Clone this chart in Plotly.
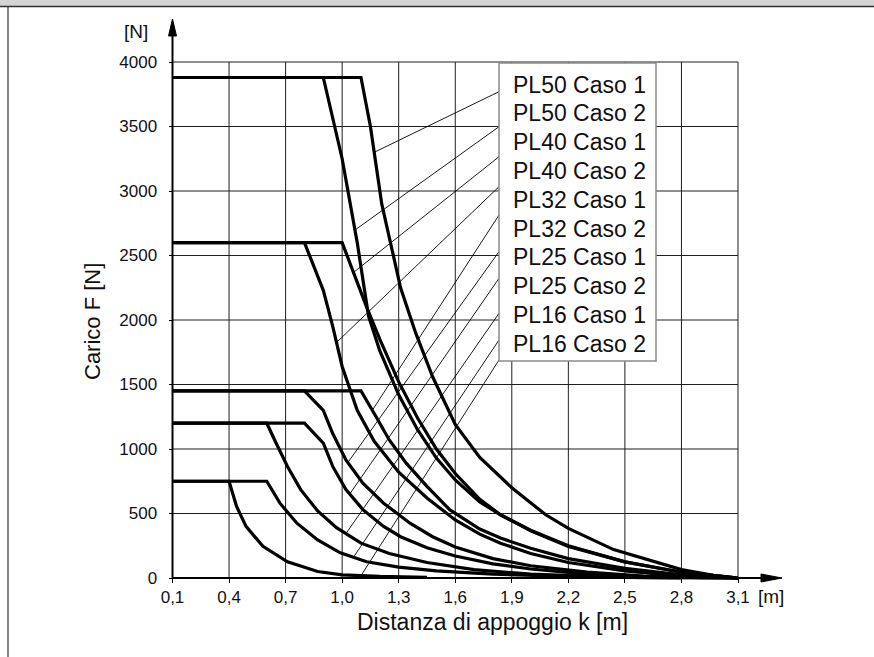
import numpy as np
import plotly.graph_objects as go

# ---- data -------------------------------------------------------------
series_names = ["PL50 Caso 1", "PL50 Caso 2", "PL40 Caso 1", "PL40 Caso 2",
                "PL32 Caso 1", "PL32 Caso 2", "PL25 Caso 1", "PL25 Caso 2",
                "PL16 Caso 1", "PL16 Caso 2"]

pl50_c1_k = [0.1, 1.1, 1.15, 1.21, 1.31, 1.39, 1.48, 1.6, 1.73, 1.84, 1.9, 2.08, 2.2, 2.44, 2.62, 2.8, 2.97, 3.1]
pl50_c1_f = [3880, 3880, 3500, 2900, 2250, 1900, 1560, 1190, 935, 780, 700, 490, 385, 220, 140, 65, 20, 0]

pl50_c2_k = [0.1, 0.9, 1.0, 1.08, 1.14, 1.2, 1.3, 1.4, 1.5, 1.6, 1.73, 1.84, 2.0, 2.2, 2.5, 2.8, 3.1]
pl50_c2_f = [3880, 3880, 3250, 2600, 2030, 1760, 1420, 1150, 930, 760, 590, 490, 370, 250, 125, 45, 0]

pl40_c1_k = [0.1, 1.0, 1.07, 1.13, 1.2, 1.3, 1.4, 1.5, 1.6, 1.73, 1.84, 2.0, 2.2, 2.5, 2.8, 3.1]
pl40_c1_f = [2600, 2600, 2330, 2100, 1850, 1520, 1240, 1000, 810, 610, 490, 365, 245, 125, 45, 0]

pl40_c2_k = [0.1, 0.8, 0.9, 0.95, 1.0, 1.08, 1.17, 1.3, 1.45, 1.6, 1.73, 1.84, 2.0, 2.2, 2.5, 2.8, 3.1]
pl40_c2_f = [2600, 2600, 2230, 1950, 1640, 1300, 1060, 820, 620, 450, 340, 270, 190, 120, 55, 15, 0]

pl32_c1_k = [0.1, 1.1, 1.18, 1.25, 1.34, 1.45, 1.57, 1.73, 1.84, 2.0, 2.2, 2.5, 2.8, 3.1]
pl32_c1_f = [1450, 1450, 1250, 1070, 890, 710, 530, 380, 310, 230, 150, 75, 25, 0]

pl32_c2_k = [0.1, 0.8, 0.9, 0.95, 1.02, 1.11, 1.22, 1.36, 1.48, 1.6, 1.8, 2.0, 2.3, 2.6, 2.9, 3.1]
pl32_c2_f = [1450, 1450, 1300, 1120, 915, 735, 580, 425, 320, 240, 150, 95, 45, 15, 3, 0]

pl25_c1_k = [0.1, 0.8, 0.9, 0.95, 1.02, 1.11, 1.22, 1.31, 1.45, 1.6, 1.8, 2.0, 2.3, 2.6, 3.1]
pl25_c1_f = [1200, 1200, 1045, 865, 685, 530, 400, 320, 235, 170, 110, 70, 30, 10, 0]

pl25_c2_k = [0.1, 0.6, 0.65, 0.71, 0.78, 0.87, 0.97, 1.1, 1.25, 1.45, 1.7, 2.0, 2.4, 2.8]
pl25_c2_f = [1200, 1200, 1045, 865, 685, 520, 390, 270, 190, 120, 65, 30, 8, 0]

pl16_c1_k = [0.1, 0.6, 0.67, 0.76, 0.87, 0.99, 1.13, 1.3, 1.5, 1.8, 2.2, 2.6, 3.1]
pl16_c1_f = [750, 750, 580, 425, 295, 195, 126, 85, 55, 30, 12, 3, 0]

pl16_c2_k = [0.1, 0.4, 0.44, 0.49, 0.58, 0.71, 0.87, 1.0, 1.2, 1.45]
pl16_c2_f = [750, 750, 555, 400, 245, 125, 50, 25, 12, 5]

curves_k = [pl50_c1_k, pl50_c2_k, pl40_c1_k, pl40_c2_k, pl32_c1_k,
            pl32_c2_k, pl25_c1_k, pl25_c2_k, pl16_c1_k, pl16_c2_k]
curves_f = [pl50_c1_f, pl50_c2_f, pl40_c1_f, pl40_c2_f, pl32_c1_f,
            pl32_c2_f, pl25_c1_f, pl25_c2_f, pl16_c1_f, pl16_c2_f]

# distance at which each label's leader line touches its curve
leader_k = [1.17, 1.068, 1.06, 0.97, 1.16, 1.03, 1.04, 1.02, 1.06, 1.1]

x_ticks = [0.1, 0.4, 0.7, 1.0, 1.3, 1.6, 1.9, 2.2, 2.5, 2.8, 3.1]
x_tick_text = ["0,1", "0,4", "0,7", "1,0", "1,3", "1,6", "1,9", "2,2", "2,5", "2,8", "3,1"]
y_ticks = [0, 500, 1000, 1500, 2000, 2500, 3000, 3500, 4000]
y_tick_text = [str(v) for v in y_ticks]

# ---- geometry (pixels) ----------------------------------------------
W, H = 874, 657
L, R, T, B = 160, 800, 12, 592          # plot area box
X0_PX, Y0_PX = 172.5, 578.0            # pixel of (0.1, 0)
PX_PER_K = 56.55 / 0.3
PX_PER_F = 516.0 / 4000.0

def kx(px):
    return 0.1 + (px - X0_PX) / PX_PER_K

def fy(py):
    return (Y0_PX - py) / PX_PER_F

def paper_x(px):
    return (px - L) / (R - L)

def paper_y(py):
    return (B - py) / (B - T)

FONT = "Liberation Sans, Arial, Helvetica, sans-serif"
INK = "#111111"

fig = go.Figure()

for k, f in zip(curves_k, curves_f):
    fig.add_trace(go.Scatter(x=k, y=f, mode="lines", showlegend=False,
                             line=dict(color="black", width=3.2),
                             hoverinfo="skip"))

shapes = []
# grid
for xv in x_ticks:
    shapes.append(dict(type="line", xref="x", yref="y", x0=xv, x1=xv, y0=0, y1=y_ticks[-1],
                       line=dict(color="#1e1e1e", width=1), layer="below"))
for yv in y_ticks:
    shapes.append(dict(type="line", xref="x", yref="y", x0=x_ticks[0], x1=x_ticks[-1], y0=yv, y1=yv,
                       line=dict(color="#1e1e1e", width=1), layer="below"))

# axes with arrows
shapes.append(dict(type="line", xref="x", yref="y", x0=0.1, x1=0.1, y0=0, y1=fy(34),
                   line=dict(color="black", width=2)))
shapes.append(dict(type="path", xref="x", yref="y",
                   path=f"M {0.1 - 4 / PX_PER_K},{fy(36)} L 0.1,{fy(19)} L {0.1 + 4 / PX_PER_K},{fy(36)} Z",
                   fillcolor="black", line=dict(color="black", width=1)))
shapes.append(dict(type="line", xref="x", yref="y", x0=0.1, x1=kx(764), y0=0, y1=0,
                   line=dict(color="black", width=2)))
shapes.append(dict(type="path", xref="x", yref="y",
                   path=f"M {kx(761)},{fy(574)} L {kx(782)},0 L {kx(761)},{fy(582)} Z",
                   fillcolor="black", line=dict(color="black", width=1)))

# label box and leader lines
box_l, box_r, box_t, box_b = 499, 656, 63, 361
leader_start_py = [91.7, 126.7, 156.7, 186.7, 215, 251.7, 278.3, 313.3, 340, 360]
for k, f, lk, sy in zip(curves_k, curves_f, leader_k, leader_start_py):
    end_f = float(np.interp(lk, k, f))
    shapes.append(dict(type="line", xref="x", yref="y", x0=kx(box_l), y0=fy(sy), x1=lk, y1=end_f,
                       line=dict(color="black", width=0.9)))
shapes.append(dict(type="rect", xref="x", yref="y", x0=kx(box_l), x1=kx(box_r),
                   y0=fy(box_b), y1=fy(box_t), fillcolor="white",
                   line=dict(color="#8a8a8a", width=1.5)))

# page frame
shapes.append(dict(type="rect", xref="paper", yref="paper", x0=paper_x(0), x1=paper_x(W),
                   y0=paper_y(6), y1=paper_y(0), fillcolor="#d4d4d4",
                   line=dict(color="rgba(0,0,0,0)", width=0)))
shapes.append(dict(type="line", xref="paper", yref="paper", x0=paper_x(0), x1=paper_x(W),
                   y0=paper_y(6.5), y1=paper_y(6.5), line=dict(color="#333333", width=1.5)))
shapes.append(dict(type="line", xref="paper", yref="paper", x0=paper_x(8), x1=paper_x(8),
                   y0=paper_y(7), y1=paper_y(H), line=dict(color="#333333", width=1.2)))

annotations = []
for i, name in enumerate(series_names):
    annotations.append(dict(xref="x", yref="y", x=kx(511), y=fy(84.5 + i * 28.8), text=name,
                            showarrow=False, xanchor="left", yanchor="middle",
                            font=dict(family=FONT, size=23, color=INK)))
annotations += [
    dict(xref="paper", yref="paper", x=paper_x(92), y=paper_y(322), text="Carico F [N]",
         textangle=-90, showarrow=False, xanchor="center", yanchor="middle",
         font=dict(family=FONT, size=22, color=INK)),
    dict(xref="paper", yref="paper", x=paper_x(492), y=paper_y(622), text="Distanza di appoggio k [m]",
         showarrow=False, xanchor="center", yanchor="middle",
         font=dict(family=FONT, size=23, color=INK)),
    dict(xref="paper", yref="paper", x=paper_x(136), y=paper_y(31), text="[N]",
         showarrow=False, xanchor="center", yanchor="middle",
         font=dict(family=FONT, size=19, color=INK)),
    dict(xref="paper", yref="paper", x=paper_x(771), y=paper_y(596), text="[m]",
         showarrow=False, xanchor="center", yanchor="middle",
         font=dict(family=FONT, size=19, color=INK)),
]

fig.update_layout(
    width=W, height=H,
    margin=dict(l=L, r=W - R, t=T, b=H - B, pad=0),
    paper_bgcolor="white", plot_bgcolor="white",
    showlegend=False,
    shapes=shapes, annotations=annotations,
    xaxis=dict(range=[kx(L), kx(R)], anchor="free", position=paper_y(Y0_PX),
               tickmode="array", tickvals=x_ticks, ticktext=x_tick_text,
               ticks="outside", ticklen=4, tickcolor="black", tickwidth=1,
               showgrid=False, zeroline=False, showline=False,
               tickfont=dict(family=FONT, size=17, color=INK)),
    yaxis=dict(range=[fy(B), fy(T)], anchor="free", position=paper_x(X0_PX),
               tickmode="array", tickvals=y_ticks, ticktext=y_tick_text,
               ticks="outside", ticklen=4, tickcolor="black", tickwidth=1,
               ticklabelstandoff=8,
               showgrid=False, zeroline=False, showline=False,
               tickfont=dict(family=FONT, size=17, color=INK)),
)

fig.write_html(
    "out.html", config={"displayModeBar": False},
    post_script=("document.documentElement.style.overflow='hidden';"
                 "document.body.style.margin='0';document.body.style.overflow='hidden';"),
)
